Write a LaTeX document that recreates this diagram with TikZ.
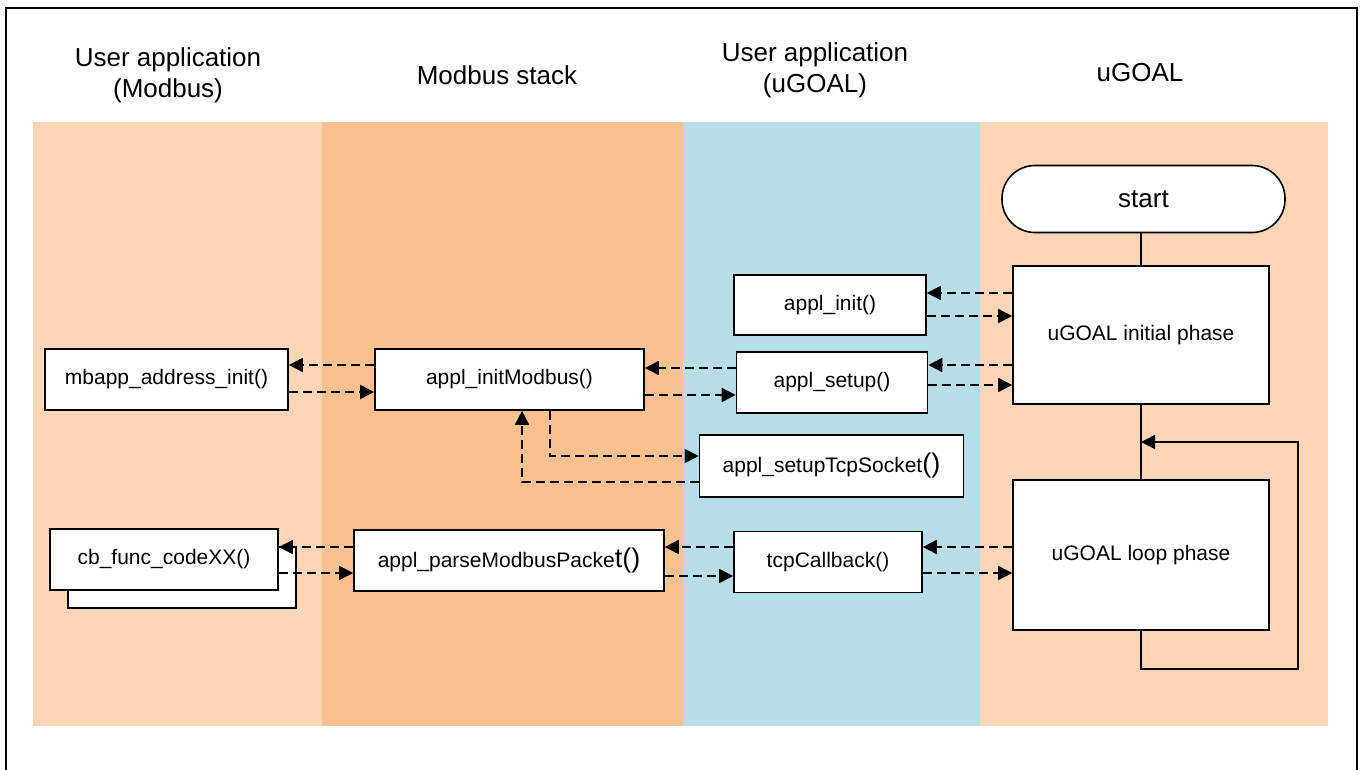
\documentclass[tikz,border=0pt]{standalone}
\usepackage{fontspec}
\setmainfont{Liberation Sans}
\usetikzlibrary{arrows.meta,calc}
\definecolor{lanepeach}{HTML}{FBD5B5}
\definecolor{laneorange}{HTML}{FAC090}
\definecolor{laneblue}{HTML}{B7DDE8}
\tikzset{
  fbox/.style={draw=black,line width=1.6pt,fill=white,inner sep=0pt,
    font=\fontsize{21}{25}\selectfont},
  hdr/.style={align=center,font=\fontsize{26}{31}\selectfont,inner sep=0pt},
  dasharrow/.style={line width=1.6pt,dash pattern=on 9pt off 5pt,
    -{Triangle[length=14pt,width=14pt]}},
  solidline/.style={line width=1.6pt},
  solidarrow/.style={line width=1.6pt,-{Triangle[length=14pt,width=14pt]}}
}
\newcommand{\bigp}[1]{{\fontsize{27}{27}\selectfont #1}}
\begin{document}
\begin{tikzpicture}[x=1pt,y=-1pt]
\useasboundingbox (0,0) rectangle (1360,769);
% lanes
\fill[lanepeach] (33,122) rectangle (322,726);
\fill[laneorange] (322,122) rectangle (683,726);
\fill[laneblue] (683,122) rectangle (980,726);
\fill[lanepeach] (980,122) rectangle (1328,726);
% frame
\draw[line width=2pt] (6,775) -- (6,8) -- (1357,8) -- (1357,775);
% headers
\node[hdr] (h1) at (168,75) {User application\\(Modbus)};
\node[hdr] (h2) at (497,75) {Modbus stack};
\node[hdr] (h3) at (815,70) {User application\\(uGOAL)};
\node[hdr] (h4) at (1140,73) {uGOAL};
% uGOAL lane
\node[fbox,minimum width=283pt,minimum height=67pt,rounded corners=33pt,
  font=\fontsize{26}{30}\selectfont] (start) at (1143.5,199) {start};
\node[fbox,minimum width=256pt,minimum height=138pt] (init) at (1141,335) {uGOAL initial phase};
\node[fbox,minimum width=256pt,minimum height=150pt] (loop) at (1141,555) {uGOAL loop phase};
% user app uGOAL lane
\node[fbox,minimum width=192pt,minimum height=60pt] (ainit) at (830,305) {appl\_init()};
\node[fbox,minimum width=191pt,minimum height=61pt] (asetup) at (832,382.5) {appl\_setup()};
\node[fbox,minimum width=264pt,minimum height=62pt] (asock) at (831.5,466) {appl\_setupTcpSocket\bigp{()}};
\node[fbox,minimum width=188pt,minimum height=61pt] (tcpcb) at (828,562) {tcpCallback()};
% modbus stack lane
\node[fbox,minimum width=269pt,minimum height=61pt] (amod) at (509.5,379.5) {appl\_initModbus()};
\node[fbox,minimum width=310pt,minimum height=61pt] (parse) at (509,560.5) {appl\_parseModbusPacke\bigp{t()}};
% user app modbus lane
\node[fbox,minimum width=243pt,minimum height=61pt] (mbapp) at (166.5,379.5) {mbapp\_address\_init()};
\node[fbox,minimum width=228pt,minimum height=61pt] (cbback) at (182,577.5) {};
\node[fbox,minimum width=228pt,minimum height=61pt] (cbf) at (164,559.5) {cb\_func\_codeXX()};
% levels
\coordinate (l293) at (0,293);
\coordinate (l316) at (0,316);
\coordinate (l365) at (0,365);
\coordinate (l368) at (0,368);
\coordinate (l385) at (0,385);
\coordinate (l392) at (0,392);
\coordinate (l395) at (0,395);
\coordinate (l456) at (0,456);
\coordinate (l482) at (0,482);
\coordinate (l547) at (0,547);
\coordinate (l573) at (0,573);
\coordinate (l576) at (0,576);
\coordinate (xdn) at (550,0);
\coordinate (xup) at (522,0);
% solid flow
\draw[solidline] (init.north |- start.south) -- (init.north);
\draw[solidline] (init.south) -- (loop.north);
\coordinate (lpBR) at (1298,669);
\coordinate (lpTop) at (1298,442);
\draw[solidarrow] (loop.south) |- (lpBR) -- (lpTop) -- (init.south |- lpTop);
% dashed calls
\draw[dasharrow] (init.west |- l293) -- (ainit.east |- l293);
\draw[dasharrow] (ainit.east |- l316) -- (init.west |- l316);
\draw[dasharrow] (init.west |- l365) -- (asetup.east |- l365);
\draw[dasharrow] (asetup.east |- l385) -- (init.west |- l385);
\draw[dasharrow] (asetup.west |- l368) -- (amod.east |- l368);
\draw[dasharrow] (amod.east |- l395) -- (asetup.west |- l395);
\draw[dasharrow] (amod.west |- l365) -- (mbapp.east |- l365);
\draw[dasharrow] (mbapp.east |- l392) -- (amod.west |- l392);
\draw[dasharrow] (amod.south -| xdn) |- (asock.west |- l456);
\draw[dasharrow] (asock.west |- l482) -| (amod.south -| xup);
\draw[dasharrow] (loop.west |- l547) -- (tcpcb.east |- l547);
\draw[dasharrow] (tcpcb.east |- l573) -- (loop.west |- l573);
\draw[dasharrow] (tcpcb.west |- l547) -- (parse.east |- l547);
\draw[dasharrow] (parse.east |- l576) -- (tcpcb.west |- l576);
\draw[dasharrow] (parse.west |- l547) -- (cbf.east |- l547);
\draw[dasharrow] (cbf.east |- l573) -- (parse.west |- l573);
\end{tikzpicture}
\end{document}
